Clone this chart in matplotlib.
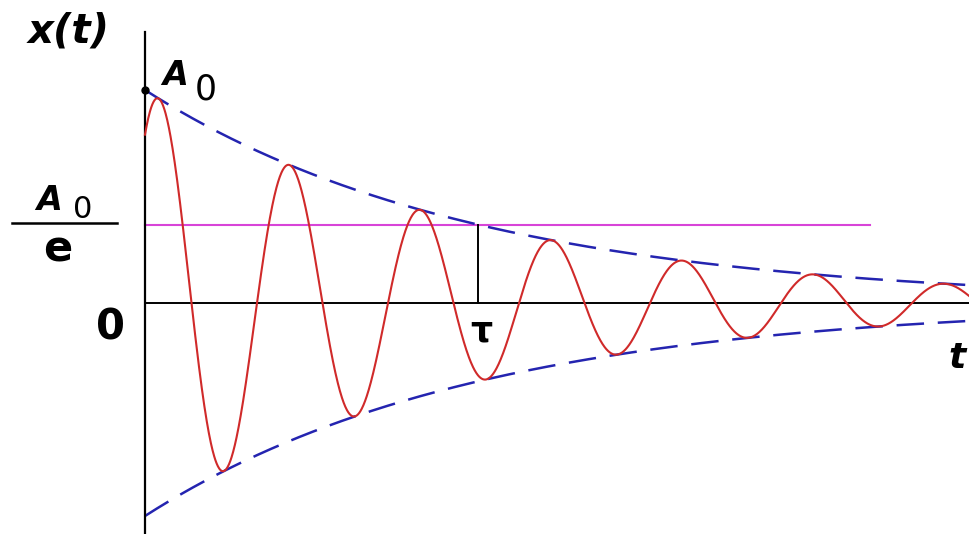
import numpy as np
import matplotlib
matplotlib.use("Agg")
import matplotlib.pyplot as plt
from matplotlib.lines import Line2D

plt.rcParams["font.family"] = ["DejaVu Sans"]

# 阻尼振动参数 (以 tau 为时间单位, A0 为振幅单位)
A0 = 1.0
TAU = 1.0
PERIOD = 0.3934          # 振动周期
T_SHIFT = 0.0413         # 余弦峰值相对 t=0 的偏移
T_END = 2.474            # 曲线右端
T_LEVEL_END = 2.177      # A0/e 水平线右端

t = np.linspace(0, T_END, 2000)
envelope = A0 * np.exp(-t / TAU)
x_t = envelope * np.cos(2 * np.pi * (t - T_SHIFT) / PERIOD)
level = A0 / np.e

W, H = 969, 534
fig = plt.figure(figsize=(W / 100, H / 100), dpi=100)
ax = fig.add_axes([0, 0, 1, 1])
ax.set_xlim(-0.4354, 2.4745)
ax.set_ylim(-1.0845, 1.4225)
ax.axis("off")

RED = "#d02a2a"
BLUE = "#2424b0"
MAGENTA = "#d844d8"

# 坐标轴
ax.plot([0, 0], [-1.0845, 1.2723], color="black", lw=1.6, zorder=3)
ax.plot([0, T_END + 0.01], [0, 0], color="black", lw=1.4, zorder=3)

# 包络线
ax.plot(t, envelope, color=BLUE, lw=1.8, linestyle=(0, (11, 5.5)), zorder=2)
ax.plot(t, -envelope, color=BLUE, lw=1.8, linestyle=(0, (11, 5.5)), zorder=2)

# A0/e 水平线与 tau 竖线
ax.plot([0, T_LEVEL_END], [level, level], color=MAGENTA, lw=1.5, zorder=1)
ax.plot([TAU, TAU], [0, level], color="black", lw=1.4, zorder=3)

# 位移曲线
ax.plot(t, x_t, color=RED, lw=1.5, zorder=4)
ax.plot([0], [A0], "o", color="black", ms=5, zorder=5)


def px(x, y):
    return x / W, 1 - y / H


bi = dict(fontweight="bold", fontstyle="italic", color="black")
fig.text(*px(69, 31), "x(t)", fontsize=29, ha="center", va="center", **bi)
fig.text(*px(162, 85), "A", fontsize=24, ha="left", va="baseline", **bi)
fig.text(*px(195, 100), "0", fontsize=25, ha="left", va="baseline")
fig.text(*px(36, 210), "A", fontsize=24, ha="left", va="baseline", **bi)
fig.text(*px(73, 218), "0", fontsize=22, ha="left", va="baseline")
fig.add_artist(Line2D([12 / W, 117 / W], [1 - 223 / H] * 2, color="black", lw=1.8))
fig.text(*px(58, 262), "e", fontsize=31, ha="center", va="baseline", fontweight="bold")
fig.text(*px(111, 340), "0", fontsize=30, ha="center", va="baseline", fontweight="bold")
fig.text(*px(481, 342), "τ", fontsize=25, ha="center", va="baseline", fontweight="bold")
fig.text(*px(957, 368), "t", fontsize=26, ha="center", va="baseline", **bi)

fig.savefig("out.png", dpi=100)
